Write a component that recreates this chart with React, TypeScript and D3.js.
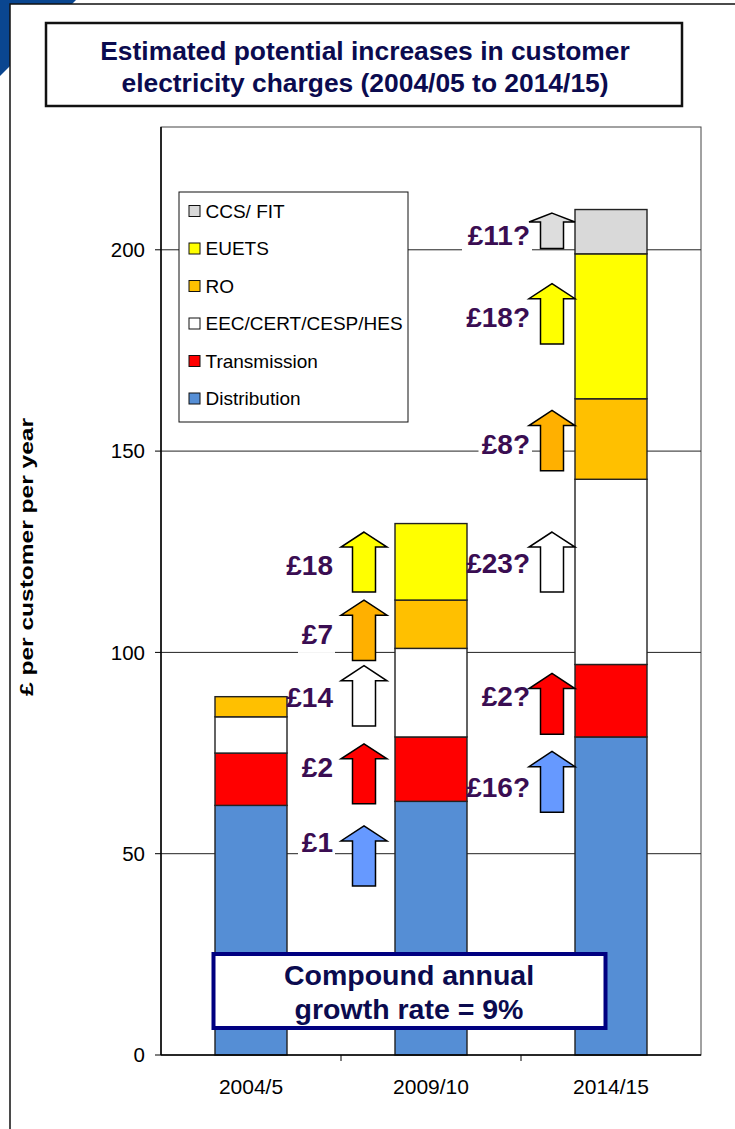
import * as d3 from "d3";

const categories = ["2004/5", "2009/10", "2014/15"];
const seriesNames = ["Distribution", "Transmission", "EEC/CERT/CESP/HES", "RO", "EUETS", "CCS/ FIT"];
const distribution = [62, 63, 79];
const transmission = [13, 16, 18];
const eec = [9, 22, 46];
const ro = [5, 12, 20];
const euets = [0, 19, 36];
const ccs = [0, 0, 11];
const yTicks = [0, 50, 100, 150, 200];

// increases from 2004/5 to 2009/10 (arrow from/to in £, label baseline in £)
const steps2009 = [
  { label: "£18", series: "EUETS", from: 115.0, to: 129.9, at: 119.1 },
  { label: "£7", series: "RO", from: 98.0, to: 113.0, at: 102.1 },
  { label: "£14", series: "EEC/CERT/CESP/HES", from: 81.7, to: 96.7, at: 86.5 },
  { label: "£2", series: "Transmission", from: 62.4, to: 77.3, at: 69.1 },
  { label: "£1", series: "Distribution", from: 42.0, to: 56.9, at: 50.5 },
];
// increases from 2009/10 to 2014/15
const steps2014 = [
  { label: "£11?", series: "CCS/ FIT", from: 200.3, to: 209.1, at: 201.2 },
  { label: "£18?", series: "EUETS", from: 176.6, to: 191.6, at: 180.8 },
  { label: "£8?", series: "RO", from: 145.1, to: 160.1, at: 149.3 },
  { label: "£23?", series: "EEC/CERT/CESP/HES", from: 115.0, to: 129.9, at: 119.8 },
  { label: "£2?", series: "Transmission", from: 79.7, to: 94.8, at: 86.8 },
  { label: "£16?", series: "Distribution", from: 60.3, to: 75.4, at: 64.0 },
];

const barColor: Record<string, string> = {
  "Distribution": "#558ED5",
  "Transmission": "#FF0000",
  "EEC/CERT/CESP/HES": "#FFFFFF",
  "RO": "#FFC000",
  "EUETS": "#FFFF00",
  "CCS/ FIT": "#D9D9D9",
};
const arrowColor: Record<string, string> = {
  "Distribution": "#6699FF",
  "Transmission": "#FF0000",
  "EEC/CERT/CESP/HES": "#FFFFFF",
  "RO": "#FFB000",
  "EUETS": "#FFFF00",
  "CCS/ FIT": "#DDDDDD",
};

const W = 735;
const H = 1129;
const plot = { left: 161, right: 701, top: 127, bottom: 1055 };
const font = "'Liberation Sans', Arial, sans-serif";
const navy = "#0B0B4F";
const labelColor = "#3A0D52";

const App = () => {
  const x = d3.scaleBand()
    .domain(categories)
    .range([plot.left, plot.right])
    .paddingInner(0.6)
    .paddingOuter(0.3);
  const y = d3.scaleLinear().domain([0, 230.5]).range([plot.bottom, plot.top]);

  const rows = categories.map((c, i) => ({
    cat: c,
    "Distribution": distribution[i],
    "Transmission": transmission[i],
    "EEC/CERT/CESP/HES": eec[i],
    "RO": ro[i],
    "EUETS": euets[i],
    "CCS/ FIT": ccs[i],
  }));
  const stacked = d3.stack<any>().keys(seriesNames)(rows);

  const step = x.step();
  const groups = [
    { steps: steps2009, cx: (x("2009/10") as number) - 31, labelDx: -31 },
    { steps: steps2014, cx: (x("2014/15") as number) - 23, labelDx: -22 },
  ];

  const arrowPath = (cx: number, y0: number, y1: number) => {
    const tip = y(y1);
    const base = y(y0);
    const hh = (base - tip) * 0.25;
    return `M${cx},${tip} L${cx + 23},${tip + hh} L${cx + 11.5},${tip + hh} L${cx + 11.5},${base} L${cx - 11.5},${base} L${cx - 11.5},${tip + hh} L${cx - 23},${tip + hh} Z`;
  };

  const legendItems = [...seriesNames].reverse();

  return (
    <svg width={W} height={H} style={{ position: "absolute", left: 0, top: 0, display: "block" }} fontFamily={font}>
      <rect x={0} y={0} width={W} height={H} fill="#fff" />
      <polygon points="0,0 76,0 0,76" fill="#0A4690" />
      <rect x={10} y={4} width={W + 20} height={H + 20} fill="#fff" stroke="#111" strokeWidth={1.5} />

      {/* title */}
      <rect x={46} y={23} width={636} height={83} fill="#fff" stroke="#111" strokeWidth={2.5} />
      <text x={365} y={60} textAnchor="middle" fontSize={26.4} fontWeight="bold" fill={navy}>
        Estimated potential increases in customer
      </text>
      <text x={365} y={92} textAnchor="middle" fontSize={26.4} fontWeight="bold" fill={navy}>
        electricity charges (2004/05 to 2014/15)
      </text>

      {/* plot frame and grid */}
      <rect x={plot.left} y={plot.top} width={plot.right - plot.left} height={plot.bottom - plot.top} fill="none" stroke="#444" strokeWidth={1} />
      {yTicks.filter(t => t > 0).map(t => (
        <line key={t} x1={plot.left} x2={plot.right} y1={y(t)} y2={y(t)} stroke="#222" strokeWidth={1} />
      ))}

      {/* white boxes behind annotation labels */}
      {groups.map((g, gi) => g.steps.map(s => {
        const w = s.label.length * 16.5;
        return <rect key={`b${gi}${s.label}`} x={g.cx + g.labelDx - w - 2} y={y(s.at) - 23} width={w + 4} height={32} fill="#fff" />;
      }))}

      {/* legend */}
      <rect x={179} y={192} width={229} height={230} fill="#fff" stroke="#111" strokeWidth={1} />
      {legendItems.map((name, i) => {
        const cy = 211 + i * 37.5;
        return (
          <g key={name}>
            <rect x={189} y={cy - 5.5} width={11} height={11} fill={barColor[name]} stroke="#111" strokeWidth={1} />
            <text x={205.5} y={cy} dy="0.36em" fontSize={19} fill="#000">{name}</text>
          </g>
        );
      })}

      {/* bars */}
      {stacked.map(layer => (
        <g key={layer.key} fill={barColor[layer.key]}>
          {layer.map((d, i) => d[1] - d[0] > 0 ? (
            <rect key={i} x={x(categories[i])} width={x.bandwidth()} y={y(d[1])} height={y(d[0]) - y(d[1])} stroke="#222" strokeWidth={1.4} />
          ) : null)}
        </g>
      ))}

      {/* arrows and labels */}
      {groups.map((g, gi) => g.steps.map(s => (
        <g key={`a${gi}${s.label}`}>
          <path d={arrowPath(g.cx, s.from, s.to)} fill={arrowColor[s.series]} stroke="#000" strokeWidth={1.5} strokeLinejoin="miter" />
          <text x={g.cx + g.labelDx} y={y(s.at)} textAnchor="end" fontSize={28} fontWeight="bold" fill={labelColor}>{s.label}</text>
        </g>
      )))}

      {/* y axis */}
      <line x1={plot.left} x2={plot.left} y1={plot.top} y2={plot.bottom} stroke="#000" strokeWidth={1.5} />
      {yTicks.map(t => (
        <g key={t}>
          <line x1={plot.left - 6} x2={plot.left} y1={y(t)} y2={y(t)} stroke="#000" strokeWidth={1} />
          <text x={145} y={y(t)} dy="0.36em" textAnchor="end" fontSize={20.5} fill="#000">{t}</text>
        </g>
      ))}
      <text transform={`translate(33,557) rotate(-90)`} textAnchor="middle" fontSize={18} fontWeight="bold" fill="#000"
        textLength={278} lengthAdjust="spacingAndGlyphs">£ per customer per year</text>

      {/* x axis */}
      <line x1={plot.left} x2={plot.right} y1={plot.bottom} y2={plot.bottom} stroke="#000" strokeWidth={1.5} />
      {categories.slice(1).map(c => (
        <line key={c} x1={(x(c) as number) - step * 0.3} x2={(x(c) as number) - step * 0.3} y1={plot.bottom} y2={plot.bottom + 6} stroke="#000" strokeWidth={1} />
      ))}
      {categories.map(c => (
        <text key={c} x={(x(c) as number) + x.bandwidth() / 2} y={1094} textAnchor="middle" fontSize={21} fill="#000">{c}</text>
      ))}

      {/* growth note */}
      <rect x={213.5} y={954} width={392} height={74} fill="#fff" stroke="#000080" strokeWidth={4} />
      <text x={409} y={985} textAnchor="middle" fontSize={28.5} fontWeight="bold" fill={navy}>Compound annual</text>
      <text x={409} y={1019} textAnchor="middle" fontSize={28.5} fontWeight="bold" fill={navy}>growth rate = 9%</text>
    </svg>
  );
};

export default App;
